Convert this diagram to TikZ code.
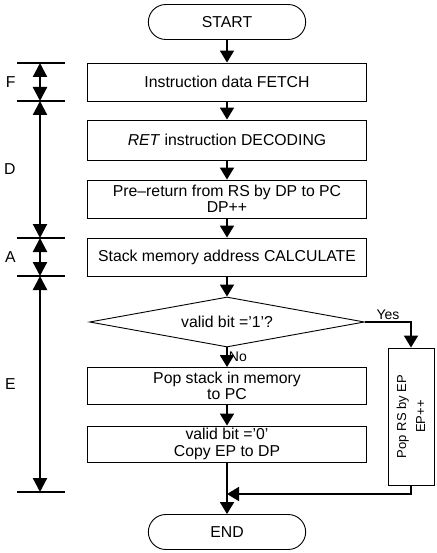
\documentclass[tikz,border=0pt]{standalone}
\usepackage{fontspec}
\setmainfont{Liberation Sans}
\usetikzlibrary{arrows.meta,shapes.geometric,shapes.misc}

\begin{document}
\begin{tikzpicture}[x=1pt,y=-1pt,
  font=\fontsize{15.8}{16.5}\selectfont,
  stepbox/.style={draw,line width=0.9pt,minimum width=279pt,minimum height=38pt,align=center,inner sep=1pt},
  term/.style={draw,line width=0.9pt,rounded rectangle,minimum width=164pt,minimum height=35pt},
  flow/.style={line width=1.8pt,-{Triangle[width=14pt,length=12pt]}},
  phase/.style={line width=2.2pt,{Triangle[width=14pt,length=14pt]}-{Triangle[width=14pt,length=14pt]}},
  tick/.style={line width=1.3pt}]
\useasboundingbox (0,0) rectangle (436,553);

% flow chart
\node[term] (start) at (227,22) {START};
\node[stepbox] (fetch) at (227,82) {Instruction data FETCH};
\node[stepbox,minimum height=40pt] (ret) at (227,140) {\textit{RET} instruction DECODING};
\node[stepbox] (pre) at (227,199) {Pre--return from RS by DP to PC\\DP++};
\node[stepbox] (calc) at (227,257) {Stack memory address CALCULATE};
\node[draw,diamond,aspect=5.6,line width=0.9pt,minimum width=275pt,minimum height=50pt,inner sep=0pt] (bit1) at (227,322) {valid bit ='1'?};
\node[stepbox,minimum height=37pt] (pop) at (227,386) {Pop stack in memory\\to PC};
\node[stepbox,minimum height=36pt] (copy) at (227,444) {valid bit ='0'\\Copy EP to DP};
\node[term] (end) at (227,532) {END};
\node[draw,line width=0.9pt,rotate=90,minimum width=137pt,minimum height=46pt,align=center,font=\fontsize{13}{19}\selectfont] (poprs) at (411,416.5) {Pop RS by EP\\EP++};
\coordinate (merge) at (227,494);

\draw[flow] (start) -- (fetch);
\draw[flow] (fetch) -- (ret);
\draw[flow] (ret) -- (pre);
\draw[flow] (pre) -- (calc);
\draw[flow] (calc) -- (bit1);
\draw[flow] (bit1) -- node[pos=0.45,anchor=west,inner sep=1pt,font=\fontsize{14}{14}\selectfont]{No} (pop);
\draw[flow] (bit1.east) -| node[pos=0.25,above,inner sep=1pt,font=\fontsize{14}{14}\selectfont]{Yes} (poprs.east);
\draw[flow] (pop) -- (copy);
\draw[flow] (copy) -- (end);
\draw[flow] (poprs.west) |- (merge);

% phases
\foreach \y in {63,101,238,276,492}
  \draw[tick] (17,\y) -- (65,\y);
\coordinate (p0) at (40,63);
\coordinate (p1) at (40,101);
\coordinate (p2) at (40,238);
\coordinate (p3) at (40,276);
\coordinate (p4) at (40,492);
\draw[phase] (p0) -- node[left=20pt]{F} (p1);
\draw[phase] (p1) -- node[left=20pt]{D} (p2);
\draw[phase] (p2) -- node[left=20pt]{A} (p3);
\draw[phase] (p3) -- node[left=20pt]{E} (p4);
\end{tikzpicture}
\end{document}
